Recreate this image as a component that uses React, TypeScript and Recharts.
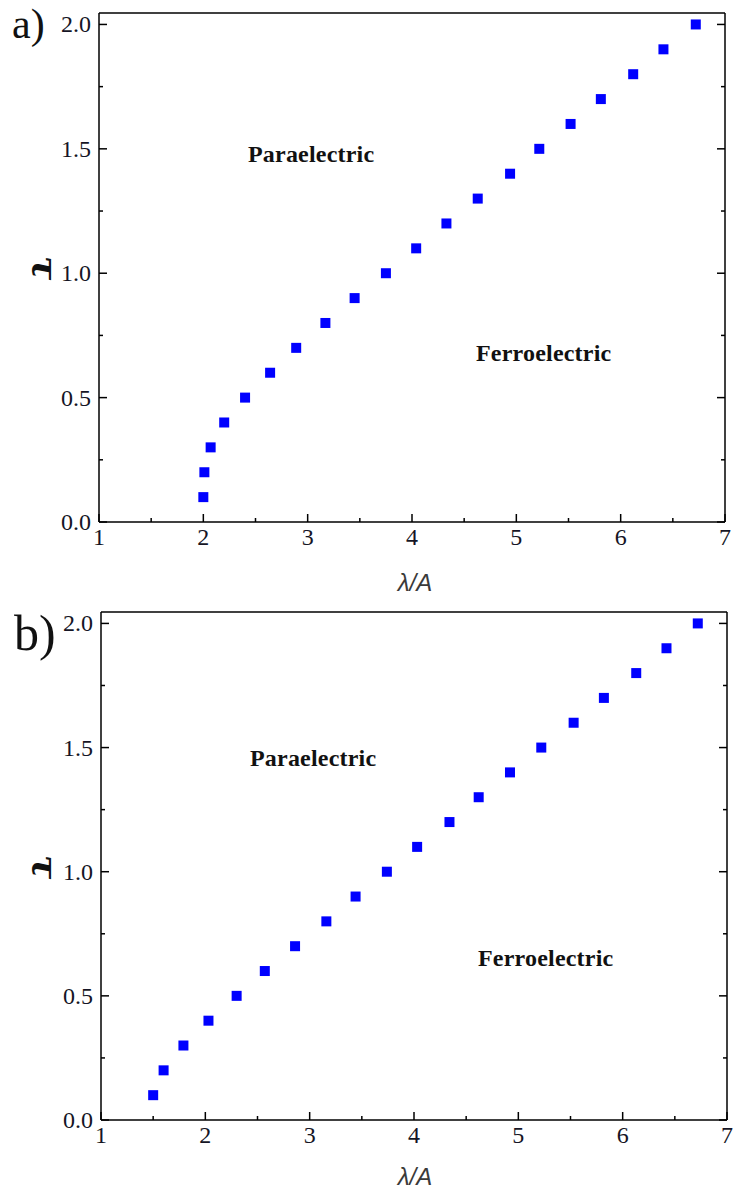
import React from 'react'
import { ScatterChart, Scatter, XAxis, YAxis } from 'recharts'

// reduced temperature, same for both panels
const TAU = [0.1, 0.2, 0.3, 0.4, 0.5, 0.6, 0.7, 0.8, 0.9, 1.0, 1.1, 1.2, 1.3, 1.4, 1.5, 1.6, 1.7, 1.8, 1.9, 2.0]

// phase boundary, panel a
const LAMBDA_A = [2.0, 2.01, 2.07, 2.2, 2.4, 2.64, 2.89, 3.17, 3.45, 3.75, 4.04, 4.33, 4.63, 4.94, 5.22, 5.52, 5.81, 6.12, 6.41, 6.72]
// phase boundary, panel b
const LAMBDA_B = [1.5, 1.6, 1.79, 2.03, 2.3, 2.57, 2.86, 3.16, 3.44, 3.74, 4.03, 4.34, 4.62, 4.92, 5.22, 5.53, 5.82, 6.13, 6.42, 6.72]

const X_TICKS = [1, 1.5, 2, 2.5, 3, 3.5, 4, 4.5, 5, 5.5, 6, 6.5, 7]
const Y_TICKS = [0, 0.25, 0.5, 0.75, 1.0, 1.25, 1.5, 1.75, 2.0]

const X_DOMAIN: [number, number] = [1, 7]
const Y_DOMAIN: [number, number] = [0, 2.046]

const SERIF = '"Liberation Serif", "Times New Roman", serif'
const SANS = '"Liberation Sans", Arial, sans-serif'
const TICK_STYLE = { fontFamily: SERIF, fontSize: 24, fill: '#151525' }

const isMajorX = (v: number) => Number.isInteger(v)
const isMajorY = (v: number) => Math.abs(v * 2 - Math.round(v * 2)) < 1e-6

function BottomTick(props: any) {
  const { x, y, payload } = props
  const major = isMajorX(payload.value)
  return (
    <g>
      <line x1={x} x2={x} y1={y} y2={y - (major ? 8 : 4)} stroke="#000" strokeWidth={1.5} />
      {major && (
        <text x={x} y={y + 23} textAnchor="middle" style={TICK_STYLE}>
          {payload.value}
        </text>
      )}
    </g>
  )
}

function TopTick(props: any) {
  const { x, y, payload } = props
  const major = isMajorX(payload.value)
  return <line x1={x} x2={x} y1={y} y2={y + (major ? 8 : 4)} stroke="#000" strokeWidth={1.5} />
}

function LeftTick(props: any) {
  const { x, y, payload } = props
  const major = isMajorY(payload.value)
  return (
    <g>
      <line x1={x} x2={x + (major ? 8 : 4)} y1={y} y2={y} stroke="#000" strokeWidth={1.5} />
      {major && (
        <text x={x - 8} y={y + 8} textAnchor="end" style={TICK_STYLE}>
          {payload.value.toFixed(1)}
        </text>
      )}
    </g>
  )
}

function RightTick(props: any) {
  const { x, y, payload } = props
  const major = isMajorY(payload.value)
  return <line x1={x} x2={x - (major ? 8 : 4)} y1={y} y2={y} stroke="#000" strokeWidth={1.5} />
}

function SquareMarker(props: any) {
  const { cx, cy } = props
  return <rect x={cx - 5} y={cy - 5} width={10} height={10} fill="#0000ff" />
}

type PanelProps = {
  lambdas: number[]
  top: number
  height: number
  margin: { top: number; right: number; bottom: number; left: number }
  leftWidth: number
  bottomHeight: number
}

function Panel({ lambdas, top, height, margin, leftWidth, bottomHeight }: PanelProps) {
  const data = lambdas.map((x, i) => ({ x, y: TAU[i] }))
  const axisLine = { stroke: '#000', strokeWidth: 1.5 }
  return (
    <div style={{ position: 'absolute', left: 0, top, width: 733, height }}>
      <ScatterChart width={733} height={height} margin={margin}>
        <XAxis
          xAxisId="b"
          dataKey="x"
          type="number"
          orientation="bottom"
          domain={X_DOMAIN}
          ticks={X_TICKS}
          allowDataOverflow
          height={bottomHeight}
          tickSize={0}
          tickMargin={0}
          axisLine={axisLine}
          tick={<BottomTick />}
          interval={0}
        />
        <XAxis
          xAxisId="t"
          type="number"
          orientation="top"
          domain={X_DOMAIN}
          ticks={X_TICKS}
          allowDataOverflow
          height={1}
          tickSize={0}
          tickMargin={0}
          axisLine={axisLine}
          tick={<TopTick />}
          interval={0}
        />
        <YAxis
          yAxisId="l"
          dataKey="y"
          type="number"
          orientation="left"
          domain={Y_DOMAIN}
          ticks={Y_TICKS}
          allowDataOverflow
          width={leftWidth}
          tickSize={0}
          tickMargin={0}
          axisLine={axisLine}
          tick={<LeftTick />}
          interval={0}
        />
        <YAxis
          yAxisId="r"
          type="number"
          orientation="right"
          domain={Y_DOMAIN}
          ticks={Y_TICKS}
          allowDataOverflow
          width={1}
          tickSize={0}
          tickMargin={0}
          axisLine={axisLine}
          tick={<RightTick />}
          interval={0}
        />
        <Scatter xAxisId="b" yAxisId="l" data={data} shape={<SquareMarker />} isAnimationActive={false} />
      </ScatterChart>
    </div>
  )
}

export default function App() {
  const region = { fontFamily: SERIF, fontSize: 24, fontWeight: 700, fill: '#111', letterSpacing: 0.2 }
  const xTitle = { fontFamily: SANS, fontStyle: 'italic', fontSize: 24, fill: '#3a3a3a' }
  const yTitle = { fontFamily: '"DejaVu Serif", serif', fontStyle: 'italic', fontWeight: 700, fontSize: 36, fill: '#111' }
  return (
    <div style={{ position: 'absolute', left: 0, top: 0, width: 733, height: 1189, background: '#fff', overflow: 'hidden' }}>
      <Panel
        lambdas={LAMBDA_A}
        top={0}
        height={600}
        margin={{ top: 12, right: 7, bottom: 18, left: 40 }}
        leftWidth={59}
        bottomHeight={60}
      />
      <Panel
        lambdas={LAMBDA_B}
        top={600}
        height={589}
        margin={{ top: 11, right: 5, bottom: 14, left: 40 }}
        leftWidth={61}
        bottomHeight={55}
      />
      <svg width={733} height={1189} style={{ position: 'absolute', left: 0, top: 0, pointerEvents: 'none' }}>
        {/* panel letters */}
        <text x={12} y={38} style={{ fontFamily: SERIF, fontSize: 42, fill: '#111' }}>a)</text>
        <text x={14} y={650} style={{ fontFamily: SERIF, fontSize: 50, fill: '#111' }}>b)</text>

        {/* phase regions */}
        <text x={248} y={162} style={region}>Paraelectric</text>
        <text x={476} y={361} style={region}>Ferroelectric</text>
        <text x={250} y={766} style={region}>Paraelectric</text>
        <text x={478} y={966} style={region}>Ferroelectric</text>

        {/* axis titles */}
        <text x={415} y={591} textAnchor="middle" style={xTitle}>λ/A</text>
        <text x={415} y={1185} textAnchor="middle" style={xTitle}>λ/A</text>
        <text x={0} y={0} transform="translate(33 268) rotate(90)" textAnchor="middle" style={yTitle}>τ</text>
        <text x={0} y={0} transform="translate(33 867) rotate(90)" textAnchor="middle" style={yTitle}>τ</text>
      </svg>
    </div>
  )
}
